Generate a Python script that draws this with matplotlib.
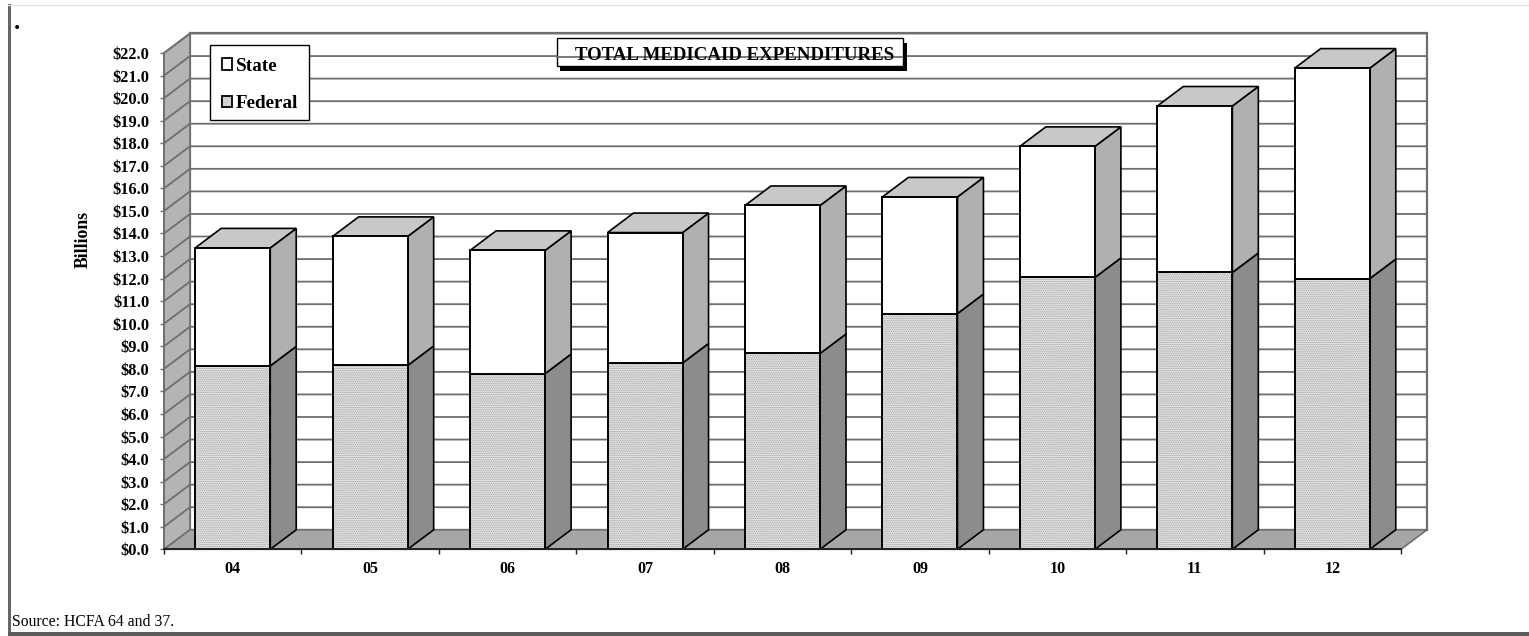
import matplotlib
matplotlib.use("Agg")
import matplotlib.pyplot as plt
from matplotlib.lines import Line2D
from matplotlib.patches import Patch, Rectangle

years = ["04", "05", "06", "07", "08", "09", "10", "11", "12"]
federal = [8.13, 8.15, 7.79, 8.26, 8.68, 10.45, 12.05, 12.27, 12.00]
state = [5.23, 5.72, 5.46, 5.78, 6.56, 5.17, 5.81, 7.38, 9.33]
yticks = list(range(0, 23))

W, H = 1529, 636
plt.rcParams['font.family'] = ['Liberation Serif', 'DejaVu Serif']
plt.rcParams['hatch.linewidth'] = 0.5

GRID = '#6e6e6e'
# depth of the fake 3d, in data units
DX = 0.189
DY = 0.865
BAR_W = 0.546


def fx(px):
    return px / W


def fy(px):
    return 1 - px / H


fig = plt.figure(figsize=(W / 100, H / 100), dpi=100, facecolor='white')
ax = fig.add_axes([fx(164), fy(549.3), (1401 - 164) / W, (549.3 - 53) / H])
ax.set_xlim(-0.5, 8.5)
ax.set_ylim(0, 22)
ax.patch.set_visible(False)
for s in ['top', 'right']:
    ax.spines[s].set_visible(False)
ax.spines['left'].set_color(GRID)
ax.spines['left'].set_linewidth(1.2)
ax.spines['bottom'].set_color('#222222')
ax.spines['bottom'].set_linewidth(1.4)
ax.spines['bottom'].set_zorder(6)

x0, x1 = -0.5, 8.5
top = yticks[-1]

# back wall, side wall, floor
ax.fill([x0 + DX, x1 + DX, x1 + DX, x0 + DX], [DY, DY, top + DY, top + DY],
        fc='white', ec=GRID, lw=1.6, clip_on=False, zorder=1)
ax.fill([x0, x0 + DX, x0 + DX, x0], [0, DY, top + DY, top],
        fc='#b4b4b4', ec=GRID, lw=1.2, clip_on=False, zorder=1)
ax.fill([x0, x1, x1 + DX, x0 + DX], [0, 0, DY, DY],
        fc='#a6a6a6', ec=GRID, lw=1.2, clip_on=False, zorder=1)

for v in yticks[1:]:
    ax.plot([x0, x0 + DX, x1 + DX], [v, v + DY, v + DY], color=GRID, lw=1.3,
            clip_on=False, zorder=2, solid_capstyle='butt')

# 3d sides and tops of the bars
for i in range(len(years)):
    left = i - BAR_W / 2
    right = i + BAR_W / 2
    fed = federal[i]
    tot = federal[i] + state[i]
    ax.fill([right, right + DX, right + DX, right], [0, DY, fed + DY, fed],
            fc='#8c8c8c', ec='black', lw=1.2, clip_on=False, zorder=3)
    ax.fill([right, right + DX, right + DX, right], [fed, fed + DY, tot + DY, tot],
            fc='#b0b0b0', ec='black', lw=1.2, clip_on=False, zorder=3)
    ax.fill([left, right, right + DX, left + DX], [tot, tot, tot + DY, tot + DY],
            fc='#c8c8c8', ec='black', lw=1.2, clip_on=False, zorder=3)

ax.bar(range(len(years)), federal, BAR_W, color='#e0e0e0', edgecolor='#a0a0a0',
       hatch='.........', linewidth=0, zorder=4)
ax.bar(range(len(years)), federal, BAR_W, fill=False, edgecolor='black', linewidth=1.4, zorder=5)
ax.bar(range(len(years)), state, BAR_W, bottom=federal, color='white',
       edgecolor='black', linewidth=1.4, zorder=5)

ax.set_yticks(yticks)
ax.set_yticklabels(["$%.1f" % v for v in yticks], fontsize=11.8, fontweight='bold')
ax.tick_params(axis='y', length=3, width=1, color=GRID, pad=7.5)
ax.set_xticks(range(len(years)))
ax.set_xticklabels(years, fontsize=11.5, fontweight='bold')
ax.set_xticks([i - 0.5 for i in range(len(years) + 1)], minor=True)
ax.tick_params(axis='x', which='major', length=0, pad=8.5)
ax.tick_params(axis='x', which='minor', length=3.5, width=1, color='#222222')

fig.text(fx(83), fy(239), "Billions", rotation=90, ha='center', va='center',
         fontsize=12.8, fontweight='bold')

# title box, the grid line shows through it
fig.add_artist(Rectangle((fx(560), fy(70.5)), 347 / W, 28 / H, fc='black', ec='none', zorder=7,
                         transform=fig.transFigure))
fig.add_artist(Rectangle((fx(556.5), fy(65.5)), 346 / W, 27.5 / H, fc='white', ec='black', lw=1, zorder=8,
                         transform=fig.transFigure))
fig.add_artist(Line2D([fx(557), fx(902)], [fy(56.5), fy(56.5)], color=GRID, lw=1.3, zorder=9))
fig.text(fx(735), fy(55.5), "TOTAL MEDICAID EXPENDITURES", ha='center', va='center',
         fontsize=13.6, fontweight='bold', zorder=10)

# legend box is drawn apart, the legend frame comes out too narrow
fig.add_artist(Rectangle((fx(210), fy(120)), 99 / W, 75 / H, fc='white', ec='black', lw=1, zorder=6,
                         transform=fig.transFigure))
handles = [Patch(fc='white', ec='black', lw=1.3, label='State'),
           Patch(fc='#d4d4d4', ec='black', lw=1.3, label='Federal')]
leg = fig.legend(handles=handles, loc='upper left', bbox_to_anchor=(fx(211), fy(47)),
                 prop={'size': 13.8, 'weight': 'bold'}, frameon=False,
                 handlelength=0.57, handleheight=0.57,
                 handletextpad=0.17, labelspacing=1.08, borderpad=0.55, borderaxespad=0)
leg.set_zorder(7)

# page frame and stray text
fig.add_artist(Line2D([fx(8), 1], [fy(4.5), fy(4.5)], color='#e2e2e2', lw=1))
fig.add_artist(Rectangle((fx(8), fy(636)), 3 / W, 632 / H, fc='#666666', ec='none',
                         transform=fig.transFigure))
fig.add_artist(Rectangle((fx(8), 0), 1 - fx(8), 4 / H, fc='#5c5c5c', ec='none',
                         transform=fig.transFigure))
fig.text(fx(13.5), fy(29), ".", ha='left', va='baseline', fontsize=18, fontweight='bold')
fig.text(fx(12.5), fy(621.5), "Source: HCFA 64 and 37.", ha='left', va='center', fontsize=11.3)

fig.savefig("out.png", dpi=100)
